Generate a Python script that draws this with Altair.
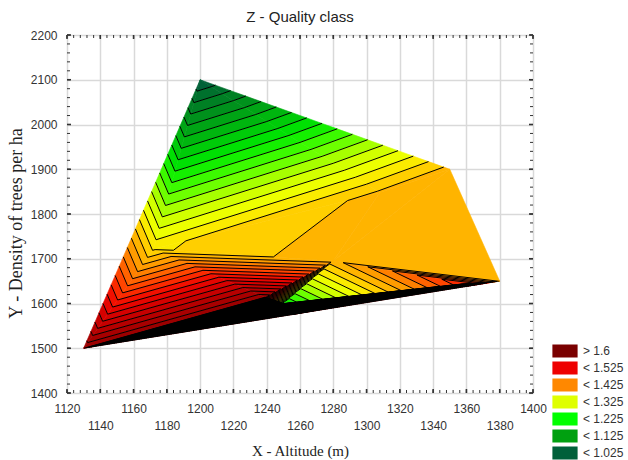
import numpy as np
import pandas as pd
import altair as alt

# ---- measured data points: altitude (x), density (y), quality class (z)
PT_X = [1200, 1350, 1380, 1130, 1172, 1308, 1280, 1250, 1239, 1255, 1360]
PT_Y = [2100, 1900, 1650, 1500, 1722, 1848, 1695, 1600, 1614, 1575, 1645]
PT_Z = [1.00, 1.41, 1.42, 1.72, 1.37, 1.405, 1.415, 1.20, 1.72, 4.00, 1.55]
# triangulation of the points (indices)
TRIS = [(0, 4, 3), (0, 4, 5), (0, 5, 1), (4, 5, 6), (5, 1, 6), (1, 2, 6),
        (4, 6, 8), (4, 8, 3), (3, 8, 9), (8, 7, 9), (6, 7, 8), (7, 9, 10),
        (6, 7, 10), (6, 10, 2), (9, 2, 10)]

LEVEL_START = 1.0
LEVEL_STEP = 0.025
LEVEL_END = 4.0
FILL_TOP = 1.8

ANCHOR_Z = [1.00, 1.05, 1.10, 1.15, 1.20, 1.25, 1.30, 1.34, 1.37, 1.40, 1.43,
            1.47, 1.52, 1.57, 1.62, 1.70, 1.80]
ANCHOR_C = ["#005a3c", "#007828", "#009a18", "#00c00c", "#00ea00", "#50ff00",
            "#c4ff00", "#f0ff00", "#ffe400", "#ffc000", "#ffa400", "#ff7800",
            "#ff3c00", "#f00800", "#d00000", "#a00000", "#800000"]

LEG_LABELS = ["> 1.6", "< 1.525", "< 1.425", "< 1.325", "< 1.225", "< 1.125", "< 1.025"]
LEG_COLORS = ["#7a0000", "#ee0000", "#ff8800", "#dfff00", "#00ff00", "#00a010", "#00603a"]

X_TICKS = list(range(1120, 1401, 20))
Y_TICKS = list(range(1400, 2201, 100))
X_MINOR = list(range(1120, 1401, 4))
Y_MINOR = list(range(1400, 2201, 20))


def hex_rgb(h):
    return np.array([int(h[i:i + 2], 16) for i in (1, 3, 5)], dtype=float)


def color_at(z):
    rgb = [np.interp(z, ANCHOR_Z, [hex_rgb(c)[k] for c in ANCHOR_C]) for k in range(3)]
    return "#%02x%02x%02x" % tuple(int(round(v)) for v in rgb)


def clip(poly, level, keep_above):
    out = []
    n = len(poly)
    for k in range(n):
        p, q = poly[k], poly[(k + 1) % n]
        pin = p[2] >= level if keep_above else p[2] <= level
        qin = q[2] >= level if keep_above else q[2] <= level
        if pin:
            out.append(p)
        if pin != qin:
            t = (level - p[2]) / (q[2] - p[2])
            out.append((p[0] + t * (q[0] - p[0]), p[1] + t * (q[1] - p[1]), level))
    return out


def area(poly):
    s = 0.0
    for k in range(len(poly)):
        p, q = poly[k], poly[(k + 1) % len(poly)]
        s += p[0] * q[1] - q[0] * p[1]
    return abs(s) / 2


n_fill = int(round((FILL_TOP - LEVEL_START) / LEVEL_STEP))
edges = [LEVEL_START + LEVEL_STEP * k for k in range(n_fill + 1)] + [99.0]
band_keys = ["b%02d" % j for j in range(len(edges) - 1)]
band_cols = [color_at((edges[j] + min(edges[j + 1], FILL_TOP + LEVEL_STEP)) / 2)
             for j in range(len(edges) - 1)]

rows = []
pid = 0
for tri in TRIS:
    base = [(PT_X[i], PT_Y[i], PT_Z[i]) for i in tri]
    for j in range(len(edges) - 1):
        lo, hi = edges[j], edges[j + 1]
        if j == 0:
            lo = -99.0
        poly = clip(clip(base, lo, True), hi, False)
        if len(poly) >= 3 and area(poly) > 1e-6:
            for i, p in enumerate(poly):
                rows.append({"pid": pid, "i": i, "x": p[0], "y": p[1], "key": band_keys[j]})
            pid += 1
poly_df = pd.DataFrame(rows)

n_lev = int(round((LEVEL_END - LEVEL_START) / LEVEL_STEP))
levels = [LEVEL_START + LEVEL_STEP * k for k in range(1, n_lev)]
segs = []
for tri in TRIS:
    pts = [(PT_X[i], PT_Y[i], PT_Z[i]) for i in tri]
    for L in levels:
        cross = []
        for k in range(3):
            p, q = pts[k], pts[(k + 1) % 3]
            if (p[2] - L) * (q[2] - L) < 0:
                t = (L - p[2]) / (q[2] - p[2])
                cross.append((p[0] + t * (q[0] - p[0]), p[1] + t * (q[1] - p[1])))
        if len(cross) == 2:
            segs.append({"x": cross[0][0], "y": cross[0][1], "x2": cross[1][0], "y2": cross[1][1]})
seg_df = pd.DataFrame(segs)

DOM = LEG_LABELS + band_keys
RNG = LEG_COLORS + band_cols

W, H = 466, 358
xs = alt.Scale(domain=[1120, 1400], nice=False, zero=False)
ys = alt.Scale(domain=[1400, 2200], nice=False, zero=False)

x_main = alt.Axis(values=X_TICKS, format="d",
                  labelExpr="datum.value % 40 == 0 ? datum.label : ['', datum.label]",
                  labelOverlap=False, labelFlush=False, ticks=False, domain=False,
                  grid=True, gridColor="#d9d9d9", gridWidth=1.5,
                  labelFont="Liberation Sans", labelFontSize=12, labelColor="#333333",
                  labelPadding=10, labelLineHeight=17, labelBaseline="top",
                  title="X - Altitude (m)", titleFont="Liberation Serif", titleFontSize=15,
                  titleFontWeight="normal", titleColor="#222222", titlePadding=12, orient="bottom")
y_main = alt.Axis(values=Y_TICKS, format="d", labelOverlap=False, labelFlush=False,
                  ticks=False, domain=False, grid=True, gridColor="#d9d9d9", gridWidth=1.5,
                  labelFont="Liberation Sans", labelFontSize=12, labelColor="#333333",
                  labelPadding=10, title="Y - Density of trees per ha",
                  titleFont="Liberation Serif", titleFontSize=18, titleFontWeight="normal",
                  titleColor="#222222", titlePadding=5, titleY=188, orient="left")

legend = alt.Legend(title=None, values=LEG_LABELS, orient="none", legendX=491, legendY=309,
                    symbolType="M-2,-1H2V1H-2Z", symbolSize=144, symbolStrokeColor="#111111",
                    symbolStrokeWidth=1.2, labelFont="Liberation Sans", labelFontSize=12,
                    labelColor="#333333", labelOffset=11, rowPadding=-1.0, padding=0)

fill_layer = alt.Chart(poly_df).mark_line(interpolate="linear-closed", strokeWidth=0.6).encode(
    x=alt.X("x:Q", scale=xs, axis=x_main),
    y=alt.Y("y:Q", scale=ys, axis=y_main),
    detail="pid:N",
    order="i:Q",
    fill=alt.Fill("key:N", scale=alt.Scale(domain=DOM, range=RNG), legend=legend),
    stroke=alt.Stroke("key:N", scale=alt.Scale(domain=DOM, range=RNG), legend=None),
)

line_layer = alt.Chart(seg_df).mark_rule(color="#000000", strokeWidth=1).encode(
    x=alt.X("x:Q", scale=xs, axis=None),
    y=alt.Y("y:Q", scale=ys, axis=None),
    x2="x2:Q",
    y2="y2:Q",
)

# inward tick marks on the four sides of the frame
xminor_df = pd.DataFrame({"v": X_MINOR})
yminor_df = pd.DataFrame({"v": Y_MINOR})
xmajor_df = pd.DataFrame({"v": X_TICKS})
ymajor_df = pd.DataFrame({"v": Y_TICKS})


def xticks(df, y0, y1, sw):
    return alt.Chart(df).mark_rule(color="#333333", strokeWidth=sw).encode(
        x=alt.X("v:Q", scale=xs, axis=None), y=alt.value(y0), y2=alt.value(y1))


def yticks(df, x0, x1, sw):
    return alt.Chart(df).mark_rule(color="#333333", strokeWidth=sw).encode(
        y=alt.Y("v:Q", scale=ys, axis=None), x=alt.value(x0), x2=alt.value(x1))


tick_layers = [
    xticks(xminor_df, H, H - 3, 1), xticks(xminor_df, 0, 3, 1),
    yticks(yminor_df, 0, 3, 1), yticks(yminor_df, W, W - 3, 1),
    xticks(xmajor_df, H, H - 4, 1.6), xticks(xmajor_df, 0, 4, 1.6),
    yticks(ymajor_df, 0, 4, 1.6), yticks(ymajor_df, W, W - 4, 1.6),
]

chart = alt.layer(fill_layer, line_layer, *tick_layers).resolve_axis(
    x="independent", y="independent"
).properties(
    width=W, height=H,
    padding={"left": 67, "top": 35, "right": 95, "bottom": 67},
    autosize=alt.AutoSizeParams(type="none"),
    title=alt.TitleParams("Z - Quality class", font="Liberation Sans", fontSize=15,
                          fontWeight="normal", color="#222222", offset=4, anchor="middle",
                          frame="group"),
).configure_view(stroke="#222222", strokeWidth=1.5).configure(background="white")

chart.save("out.html", embed_options={"renderer": "svg", "actions": False})
